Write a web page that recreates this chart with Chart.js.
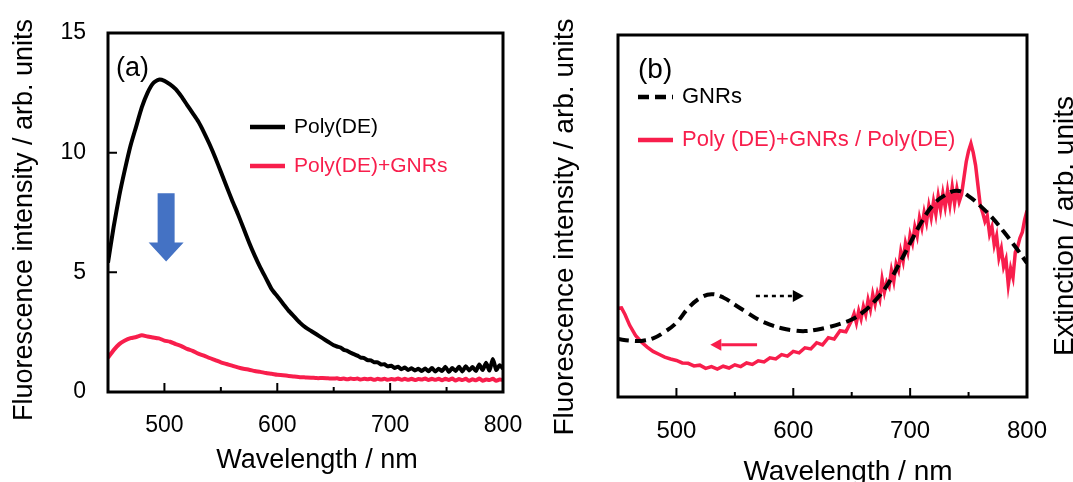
<!DOCTYPE html>
<html>
<head>
<meta charset="utf-8">
<script src="https://cdn.jsdelivr.net/npm/chart.js@4.4.1/dist/chart.umd.min.js"></script>
<style>
  html, body { margin: 0; padding: 0; background: #fff; width: 1073px; height: 482px; overflow: hidden; }
  .panel { position: absolute; top: 0; }
  #pa { left: 0; }
  #pb { left: 540px; }
</style>
</head>
<body>
<div class="panel" id="pa"><canvas id="chartA" width="540" height="482"></canvas></div>
<div class="panel" id="pb"><canvas id="chartB" width="533" height="500"></canvas></div>
<script>
  // ── Data ────────────────────────────────────────────────────
  const xTicks = [500, 600, 700, 800];
  const xMinorTicks = [550, 650, 750];
  const yTicksA = [0, 5, 10, 15];

  // (a) fluorescence spectra
  const waveA = [450,455,460,465,470,475,480,485,490,495,500,505,510,515,520,525,530,535,540,545,
    550,555,560,565,570,575,580,585,590,595,600,605,610,615,620,625,630,635,640,645,650,
    653,656,659,662,665,668,671,674,677,680,683,686,689,692,695,698,701,704,707,710,
    713,716,719,722,725,728,731,734,737,740,743,746,749,752,755,758,761,764,767,770,
    773,776,779,782,785,788,791,794,797,800];
  const polyDE = [5.4,6.9,8.2,9.3,10.3,11.1,11.9,12.5,12.9,13.05,13.0,12.85,12.65,12.35,12.0,11.65,11.3,10.85,10.35,9.8,
    9.2,8.6,8.0,7.45,6.85,6.25,5.7,5.2,4.75,4.3,4.0,3.7,3.4,3.15,2.9,2.7,2.55,2.4,2.25,2.1,1.95,
    1.9,1.86,1.76,1.72,1.64,1.58,1.52,1.44,1.42,1.33,1.32,1.24,1.24,1.15,1.16,1.07,1.1,1.0,1.06,0.95,
    1.02,0.92,0.99,0.9,0.97,0.88,0.98,0.87,1.0,0.86,0.97,0.88,1.05,0.84,1.0,0.88,1.05,0.86,1.08,0.9,
    1.04,0.88,1.15,0.92,1.22,0.9,1.38,0.92,1.12,0.98];
  const polyDEGNRs = [1.43,1.75,2.0,2.15,2.25,2.3,2.37,2.32,2.28,2.24,2.15,2.1,2.0,1.92,1.8,1.72,1.6,1.52,1.42,1.33,
    1.24,1.17,1.1,1.03,0.97,0.93,0.88,0.84,0.79,0.76,0.72,0.7,0.67,0.65,0.62,0.61,0.6,0.58,0.58,0.57,0.56,
    0.57,0.54,0.56,0.53,0.56,0.54,0.56,0.52,0.55,0.53,0.55,0.51,0.55,0.52,0.55,0.51,0.54,0.52,0.56,0.51,
    0.55,0.51,0.55,0.5,0.54,0.52,0.56,0.5,0.55,0.51,0.55,0.49,0.55,0.5,0.56,0.48,0.54,0.5,0.55,0.47,
    0.53,0.49,0.56,0.47,0.52,0.5,0.55,0.47,0.52,0.5];

  // (b) GNR extinction (right axis) and fluorescence ratio (left axis), arb. units
  const waveGNR = [450,460,470,480,490,500,510,520,530,540,550,560,570,580,590,600,610,620,
    630,640,650,660,670,680,690,700,710,720,730,740,750,760,770,780,790,800];
  const gnrExt = [16.0,15.6,15.5,16.2,18.0,20.5,24.5,27.3,28.4,27.5,25.5,23.4,21.4,20.0,19.0,18.4,18.2,18.6,
    19.3,20.2,21.4,23.5,26.6,30.7,36.4,42.5,48.5,53.2,55.8,57.0,55.5,52.8,49.6,45.7,41.5,37.0];
  const waveRatio = [450,453,456,460,465,470,475,480,485,490,495,500,505,510,515,520,525,530,535,540,
    545,550,555,560,565,570,575,580,585,590,595,600,605,610,615,620,625,630,635,640,645,650,
    652,654,656,658,660,662,664,666,668,670,672,674,676,678,680,682,684,686,688,690,
    692,694,696,698,700,702,704,706,708,710,712,714,716,718,720,722,724,726,728,730,
    732,734,736,738,740,742,744,746,748,750,752,754,756,758,760,762,764,766,768,770,
    772,774,776,778,780,782,784,786,788,790,792,794,796,798,800];
  const ratio = [24.5,24.6,22.8,19.8,17.0,15.2,13.8,12.6,11.8,11.0,10.5,10.1,9.4,9.3,8.6,8.8,7.9,8.4,7.7,8.5,
    8.0,8.9,8.4,9.4,9.0,10.0,9.7,10.8,10.5,11.7,11.3,12.6,12.2,13.6,13.3,15.0,14.4,16.4,16.0,18.3,18.0,21.2,
    23.0,20.5,23.8,21.6,25.0,22.8,26.8,24.2,28.4,25.6,28.8,26.9,32.5,29.0,31.8,30.5,35.0,32.0,36.8,35.0,
    40.2,37.5,42.5,40.0,44.8,42.5,47.0,44.5,49.5,46.8,51.0,48.2,52.8,49.6,54.0,50.5,55.5,51.8,56.2,52.5,
    57.0,53.0,58.0,53.5,57.5,54.0,56.0,60.5,65.0,68.0,70.0,67.5,64.0,58.5,53.0,51.0,48.5,50.0,45.0,47.0,
    42.0,44.5,38.5,41.0,36.0,38.0,31.0,35.5,33.0,40.0,41.5,44.0,45.5,49.0,51.5];

  const pts = (xs, ys) => xs.map((x, i) => ({ x, y: ys[i] }));

  // ── Styling ──────────────────────────────────────────────────
  const FONT = "'Liberation Sans', Arial, sans-serif";
  const RED = '#F81E4C';
  const BLUE = '#4472C4';

  // frame, inward ticks, legend, arrows and texts
  const decor = {
    id: 'decor',
    afterDatasetsDraw(chart, args, o) {
      const { ctx, chartArea: a, scales } = chart;
      const sx = scales.x, sy = scales.y;
      ctx.save();
      ctx.strokeStyle = '#000';
      ctx.lineWidth = 2;
      ctx.beginPath();
      xTicks.forEach(v => { const p = sx.getPixelForValue(v); ctx.moveTo(p, a.bottom); ctx.lineTo(p, a.bottom - 9); });
      xMinorTicks.forEach(v => { const p = sx.getPixelForValue(v); ctx.moveTo(p, a.bottom); ctx.lineTo(p, a.bottom - 5); });
      (o.yTicks || []).forEach(v => { const p = sy.getPixelForValue(v); ctx.moveTo(a.left, p); ctx.lineTo(a.left + 9, p); });
      ctx.stroke();
      ctx.lineWidth = 3;
      ctx.strokeRect(a.left, a.top, a.right - a.left, a.bottom - a.top);

      // legend
      ctx.font = o.legendSize + 'px ' + FONT;
      ctx.textAlign = 'left';
      ctx.textBaseline = 'middle';
      o.legend.forEach(it => {
        const ds = chart.data.datasets[it.ds];
        const y = a.top + it.dy, x0 = a.left + o.legendX;
        ctx.beginPath();
        ctx.setLineDash(ds.borderDash || []);
        ctx.lineWidth = 4.5;
        ctx.strokeStyle = ds.borderColor;
        ctx.moveTo(x0, y); ctx.lineTo(x0 + 35, y);
        ctx.stroke();
        ctx.setLineDash([]);
        ctx.fillStyle = ds.borderColor;
        ctx.fillText(ds.label, x0 + 44, y);
      });

      // arrows (positions in data units)
      (o.arrows || []).forEach(ar => {
        const ys = scales[ar.axis || 'y'];
        const x1 = sx.getPixelForValue(ar.from[0]), y1 = ys.getPixelForValue(ar.from[1]);
        const x2 = sx.getPixelForValue(ar.to[0]), y2 = ys.getPixelForValue(ar.to[1]);
        ctx.fillStyle = ar.color;
        ctx.strokeStyle = ar.color;
        if (ar.block) {
          const hl = 19, sw = 8.5, hw = 17.5;
          ctx.beginPath();
          ctx.moveTo(x1 - sw, y1); ctx.lineTo(x1 + sw, y1);
          ctx.lineTo(x1 + sw, y2 - hl); ctx.lineTo(x1 + hw, y2 - hl);
          ctx.lineTo(x2, y2);
          ctx.lineTo(x1 - hw, y2 - hl); ctx.lineTo(x1 - sw, y2 - hl);
          ctx.closePath();
          ctx.fill();
        } else {
          const dir = Math.sign(x2 - x1), hl = 11, hw = 6;
          ctx.beginPath();
          ctx.setLineDash(ar.dash || []);
          ctx.lineWidth = ar.width || 3;
          ctx.moveTo(x1, y1); ctx.lineTo(x2 - dir * hl, y2);
          ctx.stroke();
          ctx.setLineDash([]);
          ctx.beginPath();
          ctx.moveTo(x2, y2); ctx.lineTo(x2 - dir * hl, y2 - hw); ctx.lineTo(x2 - dir * hl, y2 + hw);
          ctx.closePath();
          ctx.fill();
        }
      });

      // axis titles and panel label
      o.texts.forEach(t => {
        ctx.save();
        ctx.translate(t.x, t.y);
        if (t.rot) ctx.rotate(-Math.PI / 2);
        ctx.font = t.size + 'px ' + FONT;
        ctx.fillStyle = '#000';
        ctx.textAlign = t.align || 'center';
        ctx.textBaseline = 'middle';
        ctx.fillText(t.text, 0, 0);
        ctx.restore();
      });
      ctx.restore();
    }
  };

  const xAxis = (size, h) => ({
    type: 'linear', min: 450, max: 800,
    grid: { display: false }, border: { display: false },
    afterBuildTicks: s => { s.ticks = xTicks.map(v => ({ value: v })); },
    ticks: { padding: 12, color: '#000', font: { family: FONT, size }, maxRotation: 0, autoSkip: false },
    afterFit: s => { s.height = h; }
  });

  // ── (a) ──────────────────────────────────────────────────────
  new Chart(document.getElementById('chartA'), {
    type: 'line',
    data: {
      datasets: [
        { label: 'Poly(DE)', data: pts(waveA, polyDE), borderColor: '#000', borderWidth: 4, pointRadius: 0, tension: 0.2 },
        { label: 'Poly(DE)+GNRs', data: pts(waveA, polyDEGNRs), borderColor: RED, borderWidth: 4, pointRadius: 0, tension: 0.2 }
      ]
    },
    options: {
      responsive: false, animation: false,
      layout: { padding: { top: 33, right: 37, bottom: 0, left: 0 } },
      plugins: {
        legend: { display: false }, tooltip: { enabled: false },
        decor: {
          yTicks: yTicksA,
          legendSize: 21, legendX: 142,
          legend: [{ ds: 0, dy: 94 }, { ds: 1, dy: 133 }],
          arrows: [{ block: true, from: [501.5, 8.3], to: [501.5, 5.45], color: BLUE }],
          texts: [
            { text: 'Fluorescence intensity / arb. units', x: 25, y: 220, rot: true, size: 27 },
            { text: 'Wavelength / nm', x: 317, y: 461, size: 27 },
            { text: '(a)', x: 116, y: 69, size: 27, align: 'left' }
          ]
        }
      },
      scales: {
        x: xAxis(23, 90),
        y: {
          min: 0, max: 15,
          grid: { display: false }, border: { display: false },
          afterBuildTicks: s => { s.ticks = yTicksA.map(v => ({ value: v })); },
          ticks: { padding: 14, color: '#000', font: { family: FONT, size: 23 } },
          afterFit: s => { s.width = 108; }
        }
      }
    },
    plugins: [decor]
  });

  // ── (b) ──────────────────────────────────────────────────────
  new Chart(document.getElementById('chartB'), {
    type: 'line',
    data: {
      datasets: [
        { label: 'GNRs', data: pts(waveGNR, gnrExt), yAxisID: 'y2', borderColor: '#000', borderWidth: 4,
          borderDash: [11, 6], pointRadius: 0, tension: 0.4 },
        { label: 'Poly (DE)+GNRs / Poly(DE)', data: pts(waveRatio, ratio), yAxisID: 'y', borderColor: RED,
          borderWidth: 3.5, pointRadius: 0, tension: 0 }
      ]
    },
    options: {
      responsive: false, animation: false,
      layout: { padding: { top: 35, right: 0, bottom: 0, left: 0 } },
      plugins: {
        legend: { display: false }, tooltip: { enabled: false },
        decor: {
          legendSize: 22, legendX: 20,
          legend: [{ ds: 0, dy: 62 }, { ds: 1, dy: 105 }],
          arrows: [
            { from: [568, 27.9], to: [609, 27.9], color: '#000', dash: [4, 4], width: 2.5 },
            { from: [569, 14.4], to: [529, 14.4], color: RED, width: 3 }
          ],
          texts: [
            { text: 'Fluorescence intensity / arb. units', x: 25, y: 227, rot: true, size: 28 },
            { text: 'Extinction / arb. units', x: 525, y: 226, rot: true, size: 28 },
            { text: 'Wavelength / nm', x: 308, y: 472, size: 28 },
            { text: '(b)', x: 98, y: 70, size: 28, align: 'left' }
          ]
        }
      },
      scales: {
        x: xAxis(24, 103),
        y: {
          min: 0, max: 100,
          grid: { display: false }, border: { display: false },
          ticks: { display: false },
          afterFit: s => { s.width = 78; }
        },
        y2: {
          position: 'right', min: 0, max: 100,
          grid: { display: false }, border: { display: false },
          ticks: { display: false },
          afterFit: s => { s.width = 46; }
        }
      }
    },
    plugins: [decor]
  });
</script>
</body>
</html>
